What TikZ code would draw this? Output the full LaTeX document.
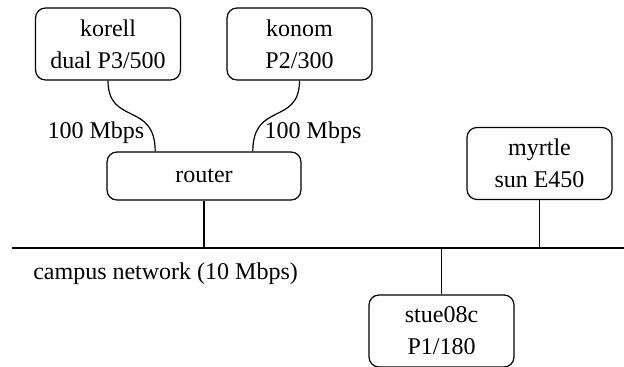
\documentclass[tikz,border=0pt]{standalone}
\usepackage{fontspec}
\setmainfont{LiberationSerif}[Extension=.ttf, UprightFont=*-Regular]
\usetikzlibrary{calc, positioning}

\begin{document}
\begin{tikzpicture}[x=0.5pt,y=0.5pt,
  font=\rmfamily\fontsize{12}{16}\selectfont,
  line width=0.6pt,
  host/.style={draw, rounded corners=5pt, align=center, inner sep=0pt,
    minimum width=72.5pt, minimum height=36pt},
  hub/.style={host, minimum width=97pt, minimum height=24pt}]
\useasboundingbox (0,0) rectangle (624,367);

\def\busy{119}

\coordinate (busW) at (12,\busy);
\coordinate (busE) at (624,\busy);

\node[host] (korell) at (108,323) {korell\\dual P3/500};
\node[host] (konom) at (299.5,323) {konom\\P2/300};
\node[hub] (router) at (204,191) {router};
\node[host] (myrtle) at (539.5,203.5) {myrtle\\sun E450};
\node[host] (stue) at (441.5,36) {stue08c\\P1/180};

\coordinate (rinL) at ($(router.north west)!0.25!(router.north east)$);
\coordinate (rinR) at ($(router.north west)!0.75!(router.north east)$);

\draw (korell.south) .. controls +(0,-45) and +(0,50) .. (rinL);
\draw (konom.south) .. controls +(0,-45) and +(0,50) .. (rinR);

\draw (busW) -- (busE);
\draw (router.south) -- (router.south |- busW);
\draw (myrtle.south) -- (myrtle.south |- busW);
\draw (stue.north) -- (stue.north |- busW);

\node (speedL) at (96,234) {100 Mbps};
\node (speedR) at (313,234) {100 Mbps};
\node[anchor=west] (campus) at (26,93) {campus network (10 Mbps)};
\end{tikzpicture}
\end{document}
